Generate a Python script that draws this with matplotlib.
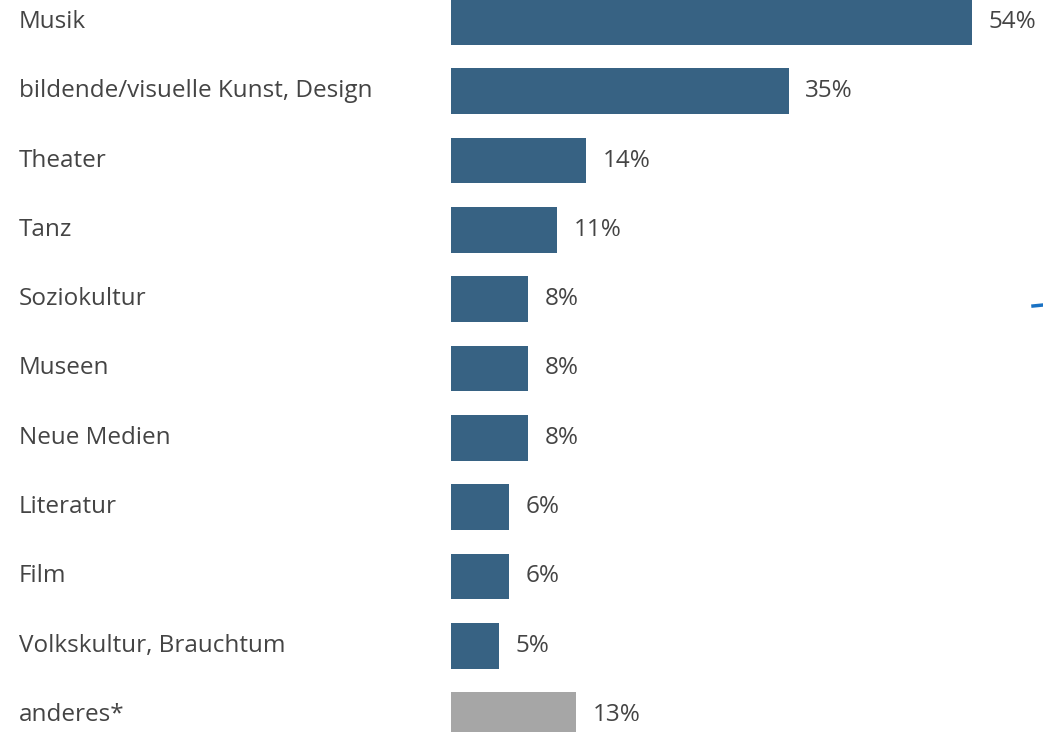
import matplotlib as mpl
mpl.use('Agg')
from matplotlib import pyplot as plt

categories = ["Musik", "bildende/visuelle Kunst, Design", "Theater", "Tanz",
              "Soziokultur", "Museen", "Neue Medien", "Literatur", "Film",
              "Volkskultur, Brauchtum", "anderes*"]
shares = [54, 35, 14, 11, 8, 8, 8, 6, 6, 5, 13]

BLUE = '#376283'
GREY = '#a6a6a6'
TEXT = '#444444'

plt.rcParams['font.family'] = ['Open Sans', 'DejaVu Sans']

fig = plt.figure(figsize=(10.43, 7.32), dpi=100, facecolor='w')
# bars start at x=451 px, axis runs to the right edge
ax = fig.add_axes([451 / 1043, 0, 1 - 451 / 1043, 1])

pos = list(range(len(categories)))
colors = [BLUE] * (len(categories) - 1) + [GREY]
bars = ax.barh(pos, shares, height=0.66, color=colors, edgecolor='none')

ax.set_xlim(0, 592 / 9.648)
ax.set_ylim(10.245, -0.317)
ax.axis('off')

for bar, val in zip(bars, shares):
    ax.annotate(f"{val}%", (bar.get_width(), bar.get_y() + bar.get_height() / 2),
                xytext=(12, 0), textcoords='offset points',
                va='center', ha='left', fontsize=17.5, color=TEXT)

# category names sit in the left margin, aligned with each bar
for p, name in zip(pos, categories):
    ax.annotate(name, (0, p), xycoords='data', xytext=(19, 0),
                textcoords=('figure pixels', 'offset points'),
                va='center', ha='left', fontsize=17.5, color=TEXT)

# small blue tick at the right edge
fig.add_artist(plt.Line2D([1033 / 1043, 1], [1 - 306 / 732, 1 - 305 / 732],
                          color='#1a72c4', lw=2.5))

fig.savefig('out.png', dpi=100)
